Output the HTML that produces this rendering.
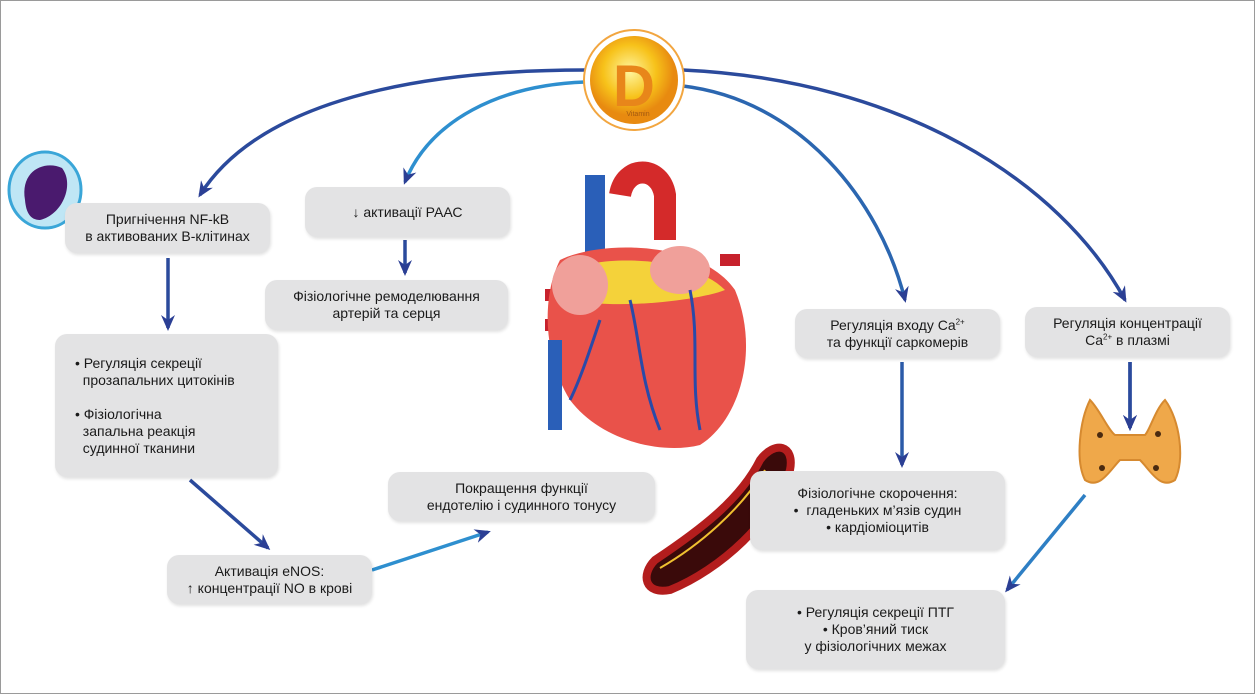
<!DOCTYPE html>
<html><head><meta charset="utf-8"><style>
body{margin:0;width:1255px;height:694px;background:#fff;position:relative;overflow:hidden;font-family:"Liberation Sans",sans-serif}
.f{position:absolute;left:0;top:0;width:1253px;height:692px;border:1px solid #9a9a9a}
.b{position:absolute;background:#e3e3e4;border-radius:12px;color:#1a1a1a;font-size:14px;line-height:17px;display:flex;align-items:center;justify-content:center;text-align:center;box-shadow:1px 2px 3px rgba(0,0,0,.12)}
svg{position:absolute;left:0;top:0}
sup{font-size:8px;line-height:0;vertical-align:super}
</style></head><body>
<div class="f"></div>
<svg width="1255" height="694">
<defs>
<marker id="a" markerWidth="16" markerHeight="16" refX="13" refY="8" orient="auto" markerUnits="userSpaceOnUse"><path d="M0,1 L16,8 L0,15 L5,8z" fill="#2b3f94"/></marker>
<radialGradient id="g" cx="45%" cy="40%"><stop offset="0" stop-color="#fff6a0"/><stop offset=".6" stop-color="#f7c21a"/><stop offset="1" stop-color="#e88a10"/></radialGradient>
</defs>
<g fill="none" stroke-width="3.5" marker-end="url(#a)">
<path d="M585,70 C420,70 260,100 200,195" stroke="#2b4a9c"/>
<path d="M585,82 C500,85 430,120 405,182" stroke="#2e8fcf"/>
<path d="M683,70 C900,80 1060,180 1125,300" stroke="#2b4a9c"/>
<path d="M683,86 C800,100 880,200 905,300" stroke="#2b66b0"/>
<path d="M168,258 L168,328" stroke="#2b4a9c"/>
<path d="M405,240 L405,273" stroke="#2b4a9c"/>
<path d="M902,362 L902,465" stroke="#2b5aa8"/>
<path d="M1130,362 L1130,428" stroke="#2b5aa8"/>
<path d="M190,480 L268,548" stroke="#2b4a9c"/>
<path d="M372,570 L488,532" stroke="#2e8fcf"/>
<path d="M1085,495 L1007,590" stroke="#2e7fc4"/>
</g>
<circle cx="634" cy="80" r="50" fill="#fff" stroke="#f2a640" stroke-width="2"/>
<circle cx="634" cy="80" r="44" fill="url(#g)"/>
<text x="634" y="106" text-anchor="middle" font-size="58" font-weight="bold" fill="#e8861a" font-family="Liberation Sans">D</text>
<text x="638" y="116" text-anchor="middle" font-size="7" fill="#a35a10">Vitamin</text>
<ellipse cx="45" cy="190" rx="36" ry="38" fill="#bfe6f5" stroke="#3aa6d8" stroke-width="3"/>
<path d="M25,200 C20,170 45,160 62,168 C75,185 62,215 40,220 C30,220 26,212 25,200z" fill="#4a1a6e"/>
<!-- heart -->
<path d="M595,175 L595,270" stroke="#2a5fb8" stroke-width="20" fill="none"/>
<path d="M620,195 C625,165 660,165 665,195 L665,240" stroke="#d42a2a" stroke-width="22" fill="none"/>
<path d="M545,295 L570,295 M545,325 L570,325 M720,260 L740,260" stroke="#c7212c" stroke-width="12"/>
<path d="M560,260 C600,240 700,240 735,290 C760,350 740,420 700,445 C660,455 600,440 570,400 C545,360 540,300 560,260z" fill="#e9524a"/>
<path d="M570,270 C600,255 690,255 725,290 C700,300 620,310 570,300z" fill="#f4d23a"/>
<ellipse cx="580" cy="285" rx="28" ry="30" fill="#f0a09a"/>
<ellipse cx="680" cy="270" rx="30" ry="24" fill="#f0a09a"/>
<path d="M555,340 L555,430" stroke="#2a5fb8" stroke-width="14"/>
<path d="M630,300 C640,340 640,380 660,430 M600,320 C590,350 580,380 570,400 M690,290 C700,340 690,380 700,430" stroke="#2a4aa8" stroke-width="3" fill="none"/>
<!-- vessel -->
<path d="M655,560 C700,530 740,500 760,460 C775,440 795,445 790,470 C775,520 720,570 670,590 C645,595 640,575 655,560z" fill="#3a0a0a" stroke="#b31d1d" stroke-width="8"/>
<path d="M660,568 C700,545 740,510 765,470" stroke="#f0c030" stroke-width="2" fill="none"/>
<!-- thyroid -->
<path d="M1090,400 C1080,420 1075,460 1085,480 C1100,490 1110,470 1120,460 L1140,460 C1150,470 1160,490 1175,480 C1185,460 1180,420 1165,400 C1155,410 1150,430 1145,435 L1115,435 C1108,430 1100,410 1090,400z" fill="#efa84a" stroke="#d68a30" stroke-width="2"/>
<circle cx="1100" cy="435" r="3" fill="#4a2a10"/><circle cx="1158" cy="434" r="3" fill="#4a2a10"/><circle cx="1102" cy="468" r="3" fill="#4a2a10"/><circle cx="1156" cy="468" r="3" fill="#4a2a10"/>
<path d="M1130,362 L1130,428" stroke="#2b4a9c" stroke-width="3.5" marker-end="url(#a)"/>
</svg>
<div class="b" style="left:65px;top:203px;width:205px;height:50px"><span>Пригнічення NF-kB<br>в активованих B-клітинах</span></div>
<div class="b" style="left:305px;top:187px;width:205px;height:50px"><span>↓ активації РААС</span></div>
<div class="b" style="left:265px;top:280px;width:243px;height:50px"><span>Фізіологічне ремоделювання<br>артерій та серця</span></div>
<div class="b" style="left:55px;top:334px;width:223px;height:143px;justify-content:flex-start;text-align:left;padding-left:20px;box-sizing:border-box"><span>• Регуляція секреції<br>&nbsp;&nbsp;прозапальних цитокінів<br><br>• Фізіологічна<br>&nbsp;&nbsp;запальна реакція<br>&nbsp;&nbsp;судинної тканини</span></div>
<div class="b" style="left:167px;top:555px;width:205px;height:49px"><span>Активація eNOS:<br>↑ концентрації NO в крові</span></div>
<div class="b" style="left:388px;top:472px;width:267px;height:49px"><span>Покращення функції<br>ендотелію і судинного тонусу</span></div>
<div class="b" style="left:795px;top:309px;width:205px;height:49px"><span>Регуляція входу Ca<sup>2+</sup><br>та функції саркомерів</span></div>
<div class="b" style="left:1025px;top:307px;width:205px;height:50px"><span>Регуляція концентрації<br>Ca<sup>2+</sup> в плазмі</span></div>
<div class="b" style="left:750px;top:471px;width:255px;height:79px"><span>Фізіологічне скорочення:<br>• &nbsp;гладеньких м’язів судин<br>• кардіоміоцитів</span></div>
<div class="b" style="left:746px;top:590px;width:259px;height:79px"><span>• Регуляція секреції ПТГ<br>• Кров’яний тиск<br>у фізіологічних межах</span></div>
</body></html>
